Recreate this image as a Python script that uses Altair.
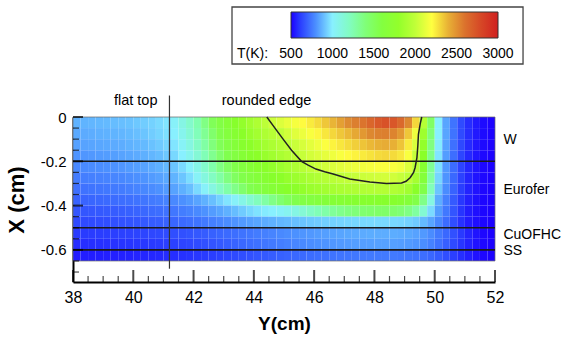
import altair as alt
import pandas as pd

# ---------------------------------------------------------------------------
# Temperature field T(K) on a regular grid of cell centres
#   Y (horizontal, cm) every 0.25 cm, X (depth, cm) every 0.05 cm
# ---------------------------------------------------------------------------
Y_CENTERS = [
    38.125, 38.375, 38.625, 38.875, 39.125, 39.375, 39.625, 39.875,
    40.125, 40.375, 40.625, 40.875, 41.125, 41.375, 41.625, 41.875,
    42.125, 42.375, 42.625, 42.875, 43.125, 43.375, 43.625, 43.875,
    44.125, 44.375, 44.625, 44.875, 45.125, 45.375, 45.625, 45.875,
    46.125, 46.375, 46.625, 46.875, 47.125, 47.375, 47.625, 47.875,
    48.125, 48.375, 48.625, 48.875, 49.125, 49.375, 49.625, 49.875,
    50.125, 50.375, 50.625, 50.875, 51.125, 51.375, 51.625, 51.875,
]
X_CENTERS = [-0.025, -0.075, -0.125, -0.175, -0.225, -0.275, -0.325,
             -0.375, -0.425, -0.475, -0.525, -0.575, -0.625]
CELL_DY = 0.25
CELL_DX = 0.05

T_ROWS = [
    [880, 885, 890, 895, 900, 905, 910, 915, 925, 935, 945, 960, 980, 1020, 1090, 1170,
     1260, 1370, 1480, 1570, 1650, 1730, 1800, 1860, 1920, 1980, 2040, 2090, 2130, 2170, 2210, 2250,
     2290, 2340, 2390, 2440, 2490, 2540, 2590, 2650, 2710, 2740, 2720, 2640, 2500, 2300, 1950, 1450,
     1000, 850, 730, 640, 580, 545, 520, 505],
    [860, 865, 870, 875, 880, 885, 890, 900, 910, 920, 935, 950, 970, 1000, 1060, 1140,
     1230, 1330, 1430, 1530, 1610, 1690, 1760, 1820, 1870, 1920, 1960, 2000, 2050, 2100, 2140, 2180,
     2220, 2260, 2300, 2340, 2380, 2420, 2460, 2500, 2530, 2540, 2520, 2460, 2340, 2150, 1850, 1400,
     1000, 850, 730, 640, 580, 545, 520, 505],
    [840, 845, 850, 855, 860, 865, 870, 880, 890, 900, 915, 930, 950, 980, 1030, 1100,
     1190, 1290, 1390, 1480, 1560, 1640, 1710, 1770, 1820, 1870, 1910, 1950, 1990, 2030, 2070, 2110,
     2150, 2190, 2230, 2260, 2290, 2320, 2350, 2380, 2400, 2410, 2400, 2350, 2250, 2080, 1800, 1380,
     990, 840, 720, 635, 575, 540, 518, 505],
    [810, 815, 820, 825, 830, 835, 845, 855, 865, 875, 890, 905, 925, 955, 1000, 1060,
     1140, 1240, 1340, 1430, 1510, 1590, 1660, 1720, 1770, 1820, 1860, 1900, 1940, 1985, 2020, 2060,
     2090, 2120, 2150, 2180, 2210, 2230, 2250, 2270, 2290, 2300, 2290, 2260, 2180, 2020, 1760, 1360,
     980, 830, 715, 630, 572, 538, 516, 505],
    [780, 785, 790, 795, 800, 805, 815, 825, 835, 845, 860, 875, 895, 920, 960, 1010,
     1080, 1170, 1270, 1370, 1450, 1530, 1600, 1660, 1710, 1760, 1800, 1840, 1880, 1920, 1960, 2000,
     2030, 2060, 2090, 2110, 2130, 2150, 2160, 2170, 2180, 2185, 2180, 2160, 2090, 1970, 1700, 1330,
     970, 820, 710, 625, 570, 536, 515, 504],
    [750, 755, 760, 765, 770, 775, 780, 790, 800, 810, 825, 840, 860, 885, 920, 965,
     1030, 1110, 1200, 1290, 1380, 1460, 1530, 1590, 1640, 1690, 1730, 1770, 1810, 1840, 1870, 1900,
     1930, 1950, 1970, 1990, 2005, 2020, 2035, 2045, 2055, 2060, 2050, 2020, 1980, 1880, 1630, 1290,
     950, 810, 700, 620, 566, 534, 514, 504],
    [720, 725, 730, 735, 740, 745, 750, 760, 770, 780, 790, 805, 825, 845, 875, 910,
     960, 1020, 1100, 1190, 1280, 1360, 1430, 1500, 1560, 1610, 1660, 1700, 1740, 1770, 1800, 1830,
     1850, 1870, 1890, 1905, 1915, 1925, 1935, 1940, 1945, 1945, 1935, 1910, 1860, 1760, 1540, 1230,
     920, 790, 690, 612, 562, 532, 513, 503],
    [690, 692, 695, 700, 705, 710, 715, 720, 728, 736, 745, 755, 768, 782, 800, 822,
     848, 878, 910, 945, 980, 1020, 1080, 1150, 1220, 1290, 1360, 1420, 1470, 1520, 1560, 1590,
     1620, 1640, 1660, 1675, 1690, 1700, 1710, 1715, 1720, 1720, 1710, 1690, 1640, 1550, 1360, 1100,
     870, 760, 670, 600, 555, 528, 511, 503],
    [660, 662, 665, 668, 672, 676, 680, 685, 692, 700, 708, 716, 726, 738, 752, 768,
     785, 805, 828, 852, 878, 905, 932, 955, 975, 990, 1000, 1020, 1050, 1090, 1140, 1190,
     1240, 1280, 1320, 1350, 1380, 1400, 1420, 1430, 1440, 1440, 1430, 1410, 1370, 1300, 1150, 960,
     830, 740, 660, 594, 550, 526, 510, 502],
    [635, 637, 640, 643, 646, 650, 654, 658, 663, 668, 674, 680, 688, 696, 706, 717,
     730, 744, 760, 776, 792, 808, 824, 838, 852, 866, 878, 890, 900, 910, 918, 926,
     932, 938, 943, 947, 950, 953, 955, 957, 958, 958, 956, 952, 944, 930, 900, 850,
     780, 710, 645, 590, 548, 525, 510, 502],
    [605, 607, 609, 611, 613, 615, 618, 621, 624, 627, 631, 635, 640, 645, 651, 658,
     666, 675, 685, 695, 705, 716, 727, 738, 749, 760, 771, 782, 792, 802, 811, 820,
     828, 836, 843, 850, 856, 861, 865, 868, 870, 870, 868, 864, 856, 844, 822, 790,
     745, 700, 650, 605, 565, 535, 515, 503],
    [580, 582, 584, 586, 588, 590, 592, 595, 598, 601, 605, 609, 614, 619, 625, 632,
     640, 649, 659, 669, 679, 690, 701, 712, 723, 734, 745, 756, 766, 776, 785, 794,
     802, 810, 817, 823, 828, 833, 836, 839, 840, 840, 838, 834, 826, 814, 795, 765,
     725, 682, 637, 596, 560, 532, 514, 503],
    [550, 551, 552, 553, 555, 557, 559, 561, 564, 567, 570, 574, 578, 582, 587, 593,
     599, 606, 613, 621, 629, 637, 645, 653, 661, 669, 677, 685, 692, 699, 706, 712,
     718, 723, 728, 732, 736, 739, 742, 744, 745, 745, 744, 741, 736, 728, 716, 698,
     674, 646, 615, 584, 556, 530, 513, 503],
]

# 2000 K isotherm
CONTOUR_Y = [44.43, 44.70, 44.97, 45.25, 45.58, 45.80, 46.06, 46.35, 46.63, 47.18, 47.85,
             48.40, 48.90, 49.05, 49.19, 49.30, 49.35, 49.41, 49.44, 49.46, 49.52, 49.57]
CONTOUR_X = [0.0, -0.05, -0.10, -0.15, -0.20, -0.217, -0.235, -0.247, -0.257, -0.28, -0.294,
             -0.30, -0.298, -0.29, -0.273, -0.25, -0.228, -0.183, -0.13, -0.078, -0.03, 0.0]

# material interfaces (X, cm) and the flat-top / rounded-edge boundary (Y, cm)
INTERFACES_X = [-0.2, -0.5, -0.6]
FIELD_Y = [38, 52]
FIELD_X = [0.0, -0.65]
EDGE_Y = 41.2
EDGE_SPAN_X = [0.097, -0.685]

MATERIALS = ["W", "Eurofer", "CuOFHC", "SS"]
MATERIAL_X = [-0.105, -0.33, -0.533, -0.603]
MATERIAL_Y = 52.28

REGIONS = ["flat top", "rounded edge"]
REGION_Y = [40.08, 44.42]
REGION_X = 0.07

# colour-bar frame, caption and tick labels (same Y/X units as the plot)
CBAR_BOX_Y = [43.275, 52.93]
CBAR_BOX_X = [0.4967, 0.2393]
CBAR_CAPTION = "T(K):"
CBAR_CAPTION_AT = (43.44, 0.2867)
CBAR_ENDS_Y = [45.232, 52.099]      # where the gradient starts / ends
CBAR_LABEL_X = 0.2867

# axes
Y_DOMAIN = [38, 52]
X_DOMAIN = [-0.745, 0]
Y_MAJOR = [38, 40, 42, 44, 46, 48, 50, 52]
Y_MINOR = [38.5, 39, 39.5, 40.5, 41, 41.5, 42.5, 43, 43.5, 44.5, 45, 45.5,
           46.5, 47, 47.5, 48.5, 49, 49.5, 50.5, 51, 51.5]
X_MAJOR = [0, -0.2, -0.4, -0.6]
X_MINOR = [-0.05, -0.1, -0.15, -0.25, -0.3, -0.35, -0.45, -0.5, -0.55, -0.65, -0.7]

# colour map (K)
T_TICKS = [500, 1000, 1500, 2000, 2500, 3000]
CMAP_DOMAIN = [500, 600, 700, 800, 900, 1000, 1250, 1500, 1750, 2000, 2200, 2500, 2750, 3000]
CMAP_RANGE = ["#1c00ff", "#2838ff", "#3a68ff", "#4c90ff", "#64baff", "#88f0ff", "#80ffb4",
              "#80ff50", "#88ff28", "#c0ff38", "#ffff40", "#dd8830", "#d85028", "#d02020"]

FONT = "Liberation Sans, Arial, sans-serif"

records = []
for xc, row in zip(X_CENTERS, T_ROWS):
    assert len(row) == len(Y_CENTERS)
    for yc, t in zip(Y_CENTERS, row):
        records.append({"y0": yc - CELL_DY / 2, "y1": yc + CELL_DY / 2,
                        "x0": xc + CELL_DX / 2, "x1": xc - CELL_DX / 2, "T": t})
field = pd.DataFrame(records)

x_scale = alt.Scale(domain=Y_DOMAIN, nice=False, zero=False)
y_scale = alt.Scale(domain=X_DOMAIN, nice=False, zero=False)
color_scale = alt.Scale(type="linear", domain=CMAP_DOMAIN, range=CMAP_RANGE, interpolate="rgb")

heat = alt.Chart(field).mark_rect(stroke=None).encode(
    x=alt.X("y0:Q", scale=x_scale,
            axis=alt.Axis(values=Y_MAJOR, ticks=False, grid=False, domainColor="black",
                          domainWidth=2, labelFont=FONT, labelFontSize=16, labelColor="black",
                          labelPadding=7, labelFlush=False, title="Y(cm)", titleFont=FONT,
                          titleFontSize=19, titleFontWeight="bold", titleColor="black",
                          titlePadding=9)),
    x2="y1:Q",
    y=alt.Y("x0:Q", scale=y_scale,
            axis=alt.Axis(values=X_MAJOR, ticks=False, grid=False, domainColor="black",
                          domainWidth=2, labelFont=FONT, labelFontSize=15, labelColor="black",
                          labelPadding=7, labelFlush=False,
                          labelExpr="datum.value == 0 ? '0' : '-' + format(abs(datum.value), '.1f')",
                          title="X (cm)", titleFont=FONT, titleFontSize=22,
                          titleFontWeight="bold", titleColor="black", titlePadding=12)),
    y2="x1:Q",
    color=alt.Color("T:Q", scale=color_scale,
                    legend=alt.Legend(type="gradient", title=None, orient="none",
                                      legendX=218, legendY=-105, padding=0,
                                      direction="horizontal", gradientLength=207,
                                      gradientThickness=26, values=T_TICKS,
                                      labelExpr="''", labelOffset=0, labelFontSize=1,
                                      gradientStrokeColor="#333", gradientStrokeWidth=1)),
)

outline = alt.Chart(pd.DataFrame({"ya": [FIELD_Y[0]], "yb": [FIELD_Y[1]],
                                  "xa": [FIELD_X[0]], "xb": [FIELD_X[1]]})).mark_rect(
    fillOpacity=0, stroke="#666", strokeWidth=1, strokeOpacity=0.7
).encode(x="ya:Q", x2="yb:Q", y="xa:Q", y2="xb:Q")

interfaces = alt.Chart(pd.DataFrame({"x": INTERFACES_X})).mark_rule(
    color="#1a1a1a", strokeWidth=1.6
).encode(y="x:Q", x=alt.datum(FIELD_Y[0]), x2=alt.datum(FIELD_Y[1]))

edge = alt.Chart(pd.DataFrame({"y": [EDGE_Y], "xa": [EDGE_SPAN_X[0]], "xb": [EDGE_SPAN_X[1]]})).mark_rule(
    color="#333", strokeWidth=1.2
).encode(x="y:Q", y="xa:Q", y2="xb:Q")

contour = alt.Chart(pd.DataFrame({"y": CONTOUR_Y, "x": CONTOUR_X,
                                  "i": list(range(len(CONTOUR_Y)))})).mark_line(
    color="#222", strokeWidth=1.5
).encode(x="y:Q", y="x:Q", order="i:Q")

ytick_major = alt.Chart(pd.DataFrame({"v": Y_MAJOR})).mark_tick(
    orient="vertical", size=12, thickness=2, color="black", yOffset=-6
).encode(x="v:Q", y=alt.datum(X_DOMAIN[0]))
ytick_minor = alt.Chart(pd.DataFrame({"v": Y_MINOR})).mark_tick(
    orient="vertical", size=6, thickness=1.2, color="black", yOffset=-3
).encode(x="v:Q", y=alt.datum(X_DOMAIN[0]))
xtick_major = alt.Chart(pd.DataFrame({"v": X_MAJOR})).mark_tick(
    orient="horizontal", size=10, thickness=2, color="black", xOffset=5
).encode(y="v:Q", x=alt.datum(Y_DOMAIN[0]))
xtick_minor = alt.Chart(pd.DataFrame({"v": X_MINOR})).mark_tick(
    orient="horizontal", size=6, thickness=1.2, color="black", xOffset=3
).encode(y="v:Q", x=alt.datum(Y_DOMAIN[0]))

region_text = alt.Chart(pd.DataFrame({"t": REGIONS, "y": REGION_Y,
                                      "x": [REGION_X] * len(REGIONS)})).mark_text(
    font=FONT, fontSize=14.5, color="black", align="center", baseline="middle"
).encode(x="y:Q", y="x:Q", text="t:N")

material_text = alt.Chart(pd.DataFrame({"t": MATERIALS, "x": MATERIAL_X,
                                        "y": [MATERIAL_Y] * len(MATERIALS)})).mark_text(
    font=FONT, fontSize=14, color="black", align="left", baseline="middle"
).encode(x="y:Q", y="x:Q", text="t:N")

# colour-bar frame, caption and tick labels
cbar_box = alt.Chart(pd.DataFrame({"ya": [CBAR_BOX_Y[0]], "yb": [CBAR_BOX_Y[1]],
                                   "xa": [CBAR_BOX_X[0]], "xb": [CBAR_BOX_X[1]]})).mark_rect(
    fill="white", stroke="#444", strokeWidth=1.3
).encode(x="ya:Q", x2="yb:Q", y="xa:Q", y2="xb:Q")

cbar_caption = alt.Chart(pd.DataFrame({"t": [CBAR_CAPTION], "y": [CBAR_CAPTION_AT[0]],
                                       "x": [CBAR_CAPTION_AT[1]]})).mark_text(
    font=FONT, fontSize=14, color="black", align="left", baseline="middle"
).encode(x="y:Q", y="x:Q", text="t:N")

t_lo, t_hi = T_TICKS[0], T_TICKS[-1]
cbar_labels = pd.DataFrame({
    "t": [str(t) for t in T_TICKS],
    "y": [CBAR_ENDS_Y[0] + (t - t_lo) / (t_hi - t_lo) * (CBAR_ENDS_Y[1] - CBAR_ENDS_Y[0])
          for t in T_TICKS],
    "x": [CBAR_LABEL_X] * len(T_TICKS),
})
cbar_ticklabels = alt.Chart(cbar_labels).mark_text(
    font=FONT, fontSize=14, color="black", align="center", baseline="middle"
).encode(x="y:Q", y="x:Q", text="t:N")

chart = alt.layer(
    cbar_box, cbar_caption, cbar_ticklabels,
    heat, outline, interfaces, edge, contour,
    ytick_major, ytick_minor, xtick_major, xtick_minor,
    region_text, material_text,
).properties(
    width=422, height=165,
    padding={"left": 73, "top": 117, "right": 68, "bottom": 60},
    autosize=alt.AutoSizeParams(type="none"),
    background="white",
).configure_view(stroke=None)

chart.save("out.html", embed_options={"renderer": "svg", "actions": False})
